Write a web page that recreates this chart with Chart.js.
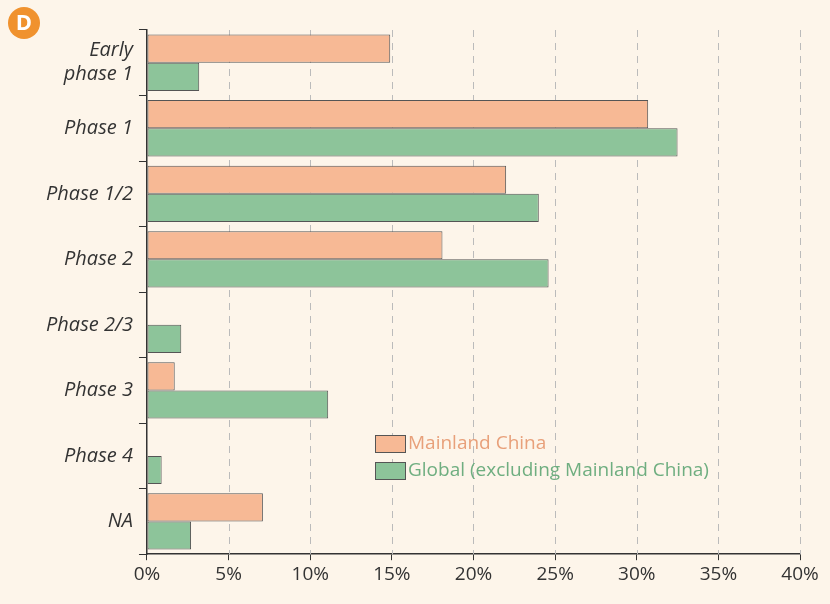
<!DOCTYPE html>
<html><head><meta charset="utf-8">
<script src="https://cdn.jsdelivr.net/npm/chart.js@4"></script>
<style>html,body{margin:0;background:#fdf5ea;}#w{width:830px;height:604px;}</style>
</head><body><div id="w"><canvas id="c"></canvas></div>
<script>
const categories = [["Early","phase 1"],"Phase 1","Phase 1/2","Phase 2","Phase 2/3","Phase 3","Phase 4","NA"];
const mainland = [14.9,30.7,22.0,18.1,0,1.7,0,7.1];
const globalEx = [3.2,32.5,24.0,24.6,2.1,11.1,0.9,2.7];
const xTicks = [0,5,10,15,20,25,30,35,40];
const extras = {
  id:'extras',
  beforeDatasetsDraw(ch){
    const c=ch.ctx,x=ch.scales.x,a=ch.chartArea;
    c.save();c.strokeStyle='#bbb';c.lineWidth=1;c.setLineDash([7,6]);
    xTicks.slice(1).forEach(v=>{const px=Math.round(x.getPixelForValue(v))+0.5;c.beginPath();c.moveTo(px,a.top);c.lineTo(px,a.bottom);c.stroke();});
    c.restore();
  },
  afterDraw(ch){
    const c=ch.ctx;
    c.save();
    c.fillStyle='#f0922e';c.beginPath();c.arc(24,23,16,0,Math.PI*2);c.fill();
    c.fillStyle='#fff';c.font='bold 22px "Open Sans"';c.textAlign='center';c.textBaseline='middle';c.fillText('D',24,24);
    const items=[['Mainland China','#f7b995','#e8a07a'],['Global (excluding Mainland China)','#8dc49a','#6fae80']];
    c.textAlign='left';c.font='19px "Open Sans"';
    items.forEach((it,i)=>{const y=443+i*27;
      c.fillStyle=it[1];c.fillRect(375,y-8,30,17);c.strokeStyle='#555';c.lineWidth=1;c.strokeRect(375.5,y-7.5,30,17);
      c.fillStyle=it[2];c.fillText(it[0],408,y+1);});
    c.restore();
  }
};
new Chart(document.getElementById('c'),{
  type:'bar',
  data:{labels:categories,datasets:[
    {label:'Mainland China',data:mainland,backgroundColor:'#f7b995',borderColor:'#555',borderWidth:1},
    {label:'Global (excluding Mainland China)',data:globalEx,backgroundColor:'#8dc49a',borderColor:'#555',borderWidth:1}]},
  options:{indexAxis:'y',responsive:true,maintainAspectRatio:false,animation:false,
    layout:{padding:{top:30,right:30,left:40,bottom:15}},
    datasets:{bar:{barPercentage:1,categoryPercentage:0.86,borderSkipped:false}},
    plugins:{legend:{display:false},tooltip:{enabled:false}},
    scales:{
      x:{min:0,max:40,afterBuildTicks:s=>{s.ticks=xTicks.map(v=>({value:v}));},
        ticks:{callback:v=>v+'%',color:'#333',font:{family:'Open Sans',size:19}},
        grid:{drawOnChartArea:false,drawTicks:true,tickLength:6,color:'#333'},
        border:{color:'#333',width:1.5,display:true}},
      y:{offset:true,grid:{offset:true,drawOnChartArea:false,tickLength:8,color:'#333'},
        border:{color:'#333',width:1.5},
        ticks:{color:'#333',font:{family:'Open Sans',size:20,style:'italic'},padding:6}}
    }},
  plugins:[extras]
});
</script></body></html>
